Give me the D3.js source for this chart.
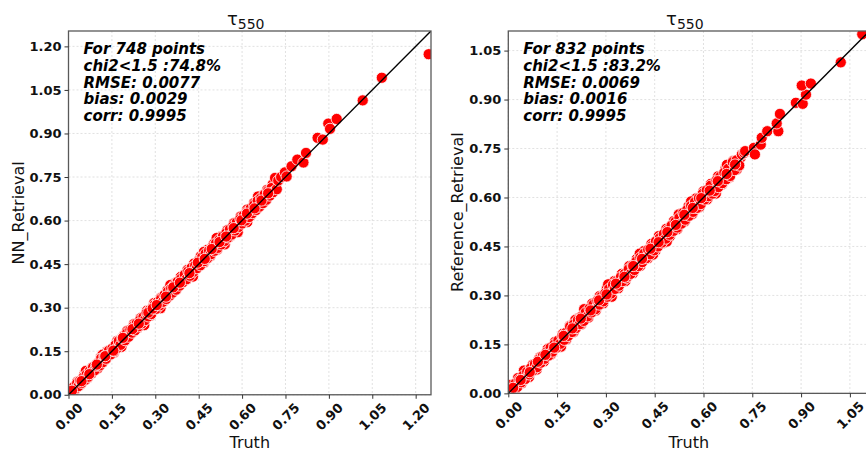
<!DOCTYPE html>
<html>
<head>
<meta charset="utf-8">
<script src="https://cdn.jsdelivr.net/npm/d3@7"></script>
<style>
  html, body { margin: 0; padding: 0; background: #fff; overflow: hidden; }
  svg { display: block; font-family: "DejaVu Sans", sans-serif; }
</style>
</head>
<body>
<svg id="chart" width="866" height="451"></svg>
<script>
// Tick values for each panel
const nnTicks = [0.00, 0.15, 0.30, 0.45, 0.60, 0.75, 0.90, 1.05, 1.20];
const refTicks = [0.00, 0.15, 0.30, 0.45, 0.60, 0.75, 0.90, 1.05];

// Summary statistics printed in each panel
const nnStats = ["For 748 points", "chi2<1.5 :74.8%", "RMSE: 0.0077", "bias: 0.0029", "corr: 0.9995"];
const refStats = ["For 832 points", "chi2<1.5 :83.2%", "RMSE: 0.0069", "bias: 0.0016", "corr: 0.9995"];

// [truth, retrieval] pairs, NN retrieval
const nnPoints = [
  [0.008,0.019],[0.020,0.012],[0.031,0.045],[0.043,0.036],[0.055,0.071],[0.066,0.058],[0.078,0.090],
  [0.089,0.097],[0.101,0.091],[0.112,0.130],[0.123,0.118],[0.134,0.150],[0.146,0.155],[0.157,0.145],
  [0.169,0.186],[0.180,0.191],[0.192,0.183],[0.203,0.220],[0.215,0.209],[0.226,0.243],[0.238,0.229],
  [0.249,0.264],[0.261,0.253],[0.272,0.290],[0.284,0.273],[0.296,0.316],[0.307,0.301],[0.319,0.334],
  [0.330,0.322],[0.342,0.360],[0.353,0.347],[0.365,0.383],[0.376,0.369],[0.388,0.406],[0.399,0.392],
  [0.411,0.430],[0.422,0.415],[0.434,0.452],[0.445,0.440],[0.457,0.477],[0.468,0.455],[0.480,0.499],
  [0.491,0.478],[0.503,0.521],[0.514,0.500],[0.526,0.545],[0.537,0.524],[0.549,0.567],[0.560,0.547],
  [0.572,0.591],[0.583,0.569],[0.595,0.614],[0.606,0.593],[0.618,0.638],[0.629,0.616],[0.641,0.660],
  [0.652,0.640],[0.664,0.684],[0.675,0.662],[0.687,0.706],[0.698,0.690],[0.706,0.725],
  [0.060,0.082],[0.183,0.165],[0.262,0.240],[0.352,0.378],[0.430,0.407],[0.512,0.540],[0.585,0.560],
  [0.655,0.683],[0.618,0.595],[0.118,0.138],[0.318,0.298],[0.468,0.492],[0.540,0.518],
  [0.005,0.012],[0.010,0.020],[0.015,0.010],[0.020,0.028],[0.025,0.022],[0.030,0.040],[0.035,0.030],
  [0.040,0.048],[0.046,0.041],[0.052,0.060],[0.058,0.052],[0.063,0.070],[0.068,0.062],[0.074,0.082],
  [0.080,0.074],[0.085,0.095],[0.090,0.084],[0.096,0.100],[0.102,0.110],[0.108,0.101],[0.113,0.125],
  [0.118,0.112],[0.124,0.132],[0.130,0.124],[0.135,0.140],[0.140,0.152],[0.146,0.139],[0.152,0.160],
  [0.158,0.150],[0.163,0.172],[0.168,0.161],[0.174,0.185],[0.180,0.172],[0.186,0.194],[0.191,0.203],
  [0.196,0.188],[0.202,0.212],[0.208,0.200],[0.214,0.224],[0.220,0.214],[0.225,0.236],[0.230,0.222],
  [0.236,0.246],[0.242,0.236],[0.248,0.258],[0.254,0.246],[0.259,0.268],[0.264,0.257],[0.270,0.282],
  [0.276,0.270],[0.281,0.292],[0.286,0.278],[0.292,0.302],[0.298,0.310],[0.303,0.296],[0.309,0.320],
  [0.315,0.308],[0.320,0.330],[0.326,0.320],[0.332,0.344],[0.338,0.330],[0.344,0.356],[0.350,0.342],
  [0.355,0.366],[0.360,0.352],[0.366,0.378],[0.372,0.362],[0.378,0.390],[0.384,0.376],[0.390,0.400],
  [0.396,0.388],[0.402,0.414],[0.408,0.398],[0.414,0.426],[0.420,0.410],[0.426,0.438],[0.432,0.424],
  [0.438,0.446],[0.444,0.436],[0.450,0.462],[0.456,0.446],[0.462,0.474],[0.468,0.460],[0.474,0.486],
  [0.480,0.470],[0.486,0.496],[0.492,0.484],[0.498,0.510],[0.504,0.496],[0.510,0.522],[0.516,0.506],
  [0.522,0.534],[0.528,0.518],[0.534,0.546],[0.540,0.530],[0.546,0.558],[0.552,0.542],[0.558,0.570],
  [0.564,0.552],[0.570,0.582],[0.576,0.566],[0.582,0.594],[0.588,0.578],[0.594,0.606],[0.600,0.590],
  [0.606,0.618],[0.612,0.600],[0.618,0.630],[0.624,0.612],[0.630,0.642],[0.636,0.626],[0.642,0.654],
  [0.648,0.636],[0.654,0.668],[0.660,0.648],[0.666,0.678],[0.672,0.660],[0.678,0.690],[0.684,0.672],
  [0.690,0.702],[0.696,0.686],[0.702,0.712],[0.708,0.698],[0.714,0.747],[0.720,0.708],[0.725,0.738],
  [0.012,0.014],[0.045,0.047],[0.072,0.071],[0.098,0.104],[0.127,0.133],[0.155,0.152],[0.188,0.196],
  [0.221,0.226],[0.243,0.245],[0.276,0.283],[0.291,0.297],[0.305,0.309],[0.337,0.338],[0.362,0.370],
  [0.385,0.386],[0.418,0.419],[0.447,0.455],[0.471,0.468],[0.495,0.502],[0.522,0.526],[0.545,0.545],
  [0.571,0.574],[0.598,0.601],[0.617,0.624],[0.643,0.642],[0.667,0.669],[0.690,0.694],
  [0.735,0.750],[0.748,0.766],[0.754,0.752],[0.771,0.787],[0.791,0.810],[0.812,0.800],[0.821,0.833],
  [0.861,0.885],[0.879,0.879],[0.898,0.934],[0.904,0.916],[0.927,0.950],[1.017,1.014],[1.083,1.092],
  [1.245,1.173]
];

// [truth, retrieval] pairs, reference retrieval
const refPoints = [
  [0.007,0.020],[0.019,0.009],[0.030,0.047],[0.041,0.031],[0.053,0.068],[0.064,0.050],[0.075,0.088],
  [0.087,0.073],[0.098,0.111],[0.110,0.098],[0.121,0.136],[0.132,0.120],[0.144,0.158],[0.155,0.142],
  [0.167,0.182],[0.178,0.165],[0.189,0.207],[0.201,0.188],[0.212,0.229],[0.224,0.211],[0.235,0.252],
  [0.246,0.232],[0.258,0.275],[0.269,0.254],[0.281,0.298],[0.292,0.276],[0.303,0.322],[0.315,0.299],
  [0.326,0.344],[0.338,0.322],[0.349,0.366],[0.360,0.344],[0.372,0.390],[0.383,0.368],[0.395,0.412],
  [0.406,0.391],[0.417,0.436],[0.429,0.414],[0.440,0.458],[0.452,0.436],[0.463,0.482],[0.474,0.460],
  [0.486,0.504],[0.497,0.481],[0.509,0.528],[0.520,0.503],[0.531,0.551],[0.543,0.527],[0.554,0.573],
  [0.566,0.549],[0.577,0.597],[0.588,0.571],[0.600,0.619],[0.611,0.594],[0.623,0.642],[0.634,0.617],
  [0.645,0.665],[0.657,0.640],[0.668,0.690],[0.680,0.662],[0.691,0.712],[0.702,0.686],[0.714,0.722],
  [0.048,0.070],[0.162,0.143],[0.233,0.258],[0.318,0.296],[0.404,0.428],[0.487,0.465],[0.562,0.588],
  [0.638,0.612],[0.672,0.700],[0.206,0.225],[0.445,0.425],[0.524,0.548],
  [0.004,0.010],[0.010,0.026],[0.016,0.012],[0.022,0.030],[0.028,0.020],[0.034,0.042],[0.040,0.034],
  [0.046,0.054],[0.052,0.044],[0.058,0.066],[0.064,0.058],[0.070,0.078],[0.076,0.070],[0.082,0.090],
  [0.088,0.080],[0.094,0.104],[0.100,0.094],[0.106,0.114],[0.112,0.106],[0.118,0.126],[0.124,0.116],
  [0.130,0.140],[0.136,0.128],[0.142,0.150],[0.148,0.140],[0.154,0.162],[0.160,0.152],[0.166,0.176],
  [0.172,0.164],[0.178,0.186],[0.184,0.176],[0.190,0.204],[0.196,0.188],[0.202,0.212],[0.208,0.200],
  [0.214,0.224],[0.220,0.212],[0.226,0.236],[0.232,0.222],[0.238,0.248],[0.244,0.236],[0.250,0.260],
  [0.256,0.248],[0.262,0.272],[0.268,0.258],[0.274,0.284],[0.280,0.272],[0.286,0.296],[0.292,0.282],
  [0.298,0.306],[0.304,0.296],[0.307,0.334],[0.310,0.320],[0.316,0.306],[0.322,0.332],[0.328,0.320],
  [0.334,0.344],[0.340,0.330],[0.346,0.356],[0.352,0.344],[0.358,0.366],[0.364,0.354],[0.369,0.360],
  [0.370,0.380],[0.376,0.366],[0.382,0.392],[0.388,0.378],[0.394,0.404],[0.400,0.390],[0.406,0.416],
  [0.412,0.402],[0.418,0.428],[0.424,0.414],[0.430,0.440],[0.436,0.426],[0.442,0.452],[0.448,0.438],
  [0.454,0.466],[0.460,0.450],[0.466,0.476],[0.472,0.462],[0.478,0.488],[0.484,0.474],[0.490,0.500],
  [0.496,0.486],[0.502,0.514],[0.508,0.498],[0.514,0.526],[0.520,0.508],[0.526,0.538],[0.532,0.520],
  [0.538,0.553],[0.544,0.532],[0.550,0.562],[0.556,0.544],[0.562,0.574],[0.568,0.556],[0.574,0.586],
  [0.580,0.568],[0.586,0.598],[0.592,0.580],[0.598,0.612],[0.604,0.594],[0.610,0.622],[0.616,0.604],
  [0.622,0.636],[0.628,0.612],[0.635,0.620],[0.640,0.652],[0.646,0.632],[0.652,0.664],[0.658,0.644],
  [0.664,0.676],[0.670,0.656],[0.676,0.688],[0.682,0.666],[0.690,0.708],[0.696,0.684],[0.702,0.714],
  [0.710,0.698],[0.718,0.732],
  [0.015,0.017],[0.038,0.041],[0.066,0.065],[0.091,0.097],[0.114,0.118],[0.141,0.140],[0.170,0.176],
  [0.197,0.199],[0.223,0.229],[0.253,0.254],[0.279,0.285],[0.302,0.303],[0.331,0.336],[0.357,0.357],
  [0.384,0.390],[0.411,0.412],[0.437,0.443],[0.462,0.463],[0.489,0.494],[0.515,0.516],[0.541,0.547],
  [0.567,0.568],[0.593,0.598],[0.619,0.621],[0.644,0.650],[0.671,0.672],[0.697,0.701],
  [0.725,0.737],[0.728,0.742],[0.755,0.752],[0.758,0.732],[0.776,0.762],
  [0.779,0.783],[0.796,0.803],[0.830,0.803],[0.825,0.827],[0.835,0.856],[0.884,0.890],[0.905,0.887],
  [0.915,0.915],[0.902,0.943],[0.930,0.949],[1.022,1.014],[1.088,1.100]
];

const svg = d3.select("#chart");

function drawPanel(opts) {
  const { left, top, size, domainMax, ticks, points, stats, yLabel, yLabelX, id } = opts;
  const g = svg.append("g");

  const x = d3.scaleLinear().domain([0, domainMax]).range([left, left + size]);
  const y = d3.scaleLinear().domain([0, domainMax]).range([top + size * 1.0035, top]);
  const bottom = y(0);

  svg.append("clipPath").attr("id", id)
    .append("rect").attr("x", left).attr("y", top)
    .attr("width", size).attr("height", bottom - top);

  // dashed grid at every tick
  const grid = g.append("g").attr("stroke", "#d9d9d9").attr("stroke-width", 0.8)
    .attr("stroke-dasharray", "2,2");
  grid.selectAll("line.v").data(ticks).join("line")
    .attr("x1", d => x(d)).attr("x2", d => x(d)).attr("y1", top).attr("y2", bottom);
  grid.selectAll("line.h").data(ticks).join("line")
    .attr("y1", d => y(d)).attr("y2", d => y(d)).attr("x1", left).attr("x2", left + size);

  // scatter points
  const plot = g.append("g").attr("clip-path", `url(#${id})`);
  plot.selectAll("circle").data(points).join("circle")
    .attr("cx", d => x(d[0])).attr("cy", d => y(d[1])).attr("r", 5.6)
    .attr("fill", "#ff0000").attr("stroke", "#fff").attr("stroke-width", 0.8);

  // 1:1 line
  plot.append("line")
    .attr("x1", x(0)).attr("y1", y(0)).attr("x2", x(domainMax)).attr("y2", y(domainMax))
    .attr("stroke", "#000").attr("stroke-width", 1.4);

  // frame
  g.append("rect").attr("x", left).attr("y", top).attr("width", size).attr("height", bottom - top)
    .attr("fill", "none").attr("stroke", "#595959").attr("stroke-width", 1.3);

  // y axis
  const yAxis = d3.axisLeft(y).tickValues(ticks).tickFormat(d3.format(".2f")).tickSize(4).tickPadding(3);
  const ya = g.append("g").attr("transform", `translate(${left},0)`).call(yAxis);
  ya.select(".domain").remove();
  ya.selectAll(".tick line").attr("stroke", "#333");
  ya.selectAll(".tick text").attr("font-size", 13).attr("font-weight", "bold")
    .attr("font-family", "DejaVu Sans").attr("fill", "#111");

  // x axis with rotated labels
  const xAxis = d3.axisBottom(x).tickValues(ticks).tickFormat(d3.format(".2f")).tickSize(4);
  const xa = g.append("g").attr("transform", `translate(0,${bottom})`).call(xAxis);
  xa.select(".domain").remove();
  xa.selectAll(".tick line").attr("stroke", "#333");
  xa.selectAll(".tick text")
    .attr("font-size", 13).attr("font-weight", "bold").attr("font-family", "DejaVu Sans")
    .attr("fill", "#111")
    .attr("text-anchor", "middle").attr("dy", null)
    .attr("y", 0)
    .attr("dominant-baseline", "central")
    .attr("transform", "translate(0,22) rotate(-45)");

  // title
  const title = g.append("text").attr("x", left + size / 2 - 4).attr("y", 25)
    .attr("text-anchor", "middle").attr("font-size", 18).attr("fill", "#111");
  title.append("tspan").text("τ");
  title.append("tspan").attr("font-size", 14).attr("dy", 4).text("550");

  // axis labels
  g.append("text").attr("x", left + size / 2).attr("y", 448)
    .attr("text-anchor", "middle").attr("font-size", 16).attr("fill", "#111").text("Truth");
  g.append("text").attr("transform", `translate(${yLabelX},${(top + bottom) / 2}) rotate(-90)`)
    .attr("text-anchor", "middle").attr("font-size", 16).attr("fill", "#111").text(yLabel);

  // statistics block
  const st = g.append("text").attr("font-size", 15).attr("font-weight", "bold")
    .attr("font-style", "italic").attr("fill", "#000");
  stats.forEach((s, i) => {
    st.append("tspan").attr("x", left + 15).attr("y", 54 + i * 16.8).text(s);
  });
}

drawPanel({ id: "clipL", left: 68.5, top: 31, size: 362.5, domainMax: 1.253,
  ticks: nnTicks, points: nnPoints, stats: nnStats, yLabel: "NN_Retrieval", yLabelX: 24 });
drawPanel({ id: "clipR", left: 508.3, top: 31, size: 361.1, domainMax: 1.11,
  ticks: refTicks, points: refPoints, stats: refStats, yLabel: "Reference_Retrieval", yLabelX: 463 });
</script>
</body>
</html>
